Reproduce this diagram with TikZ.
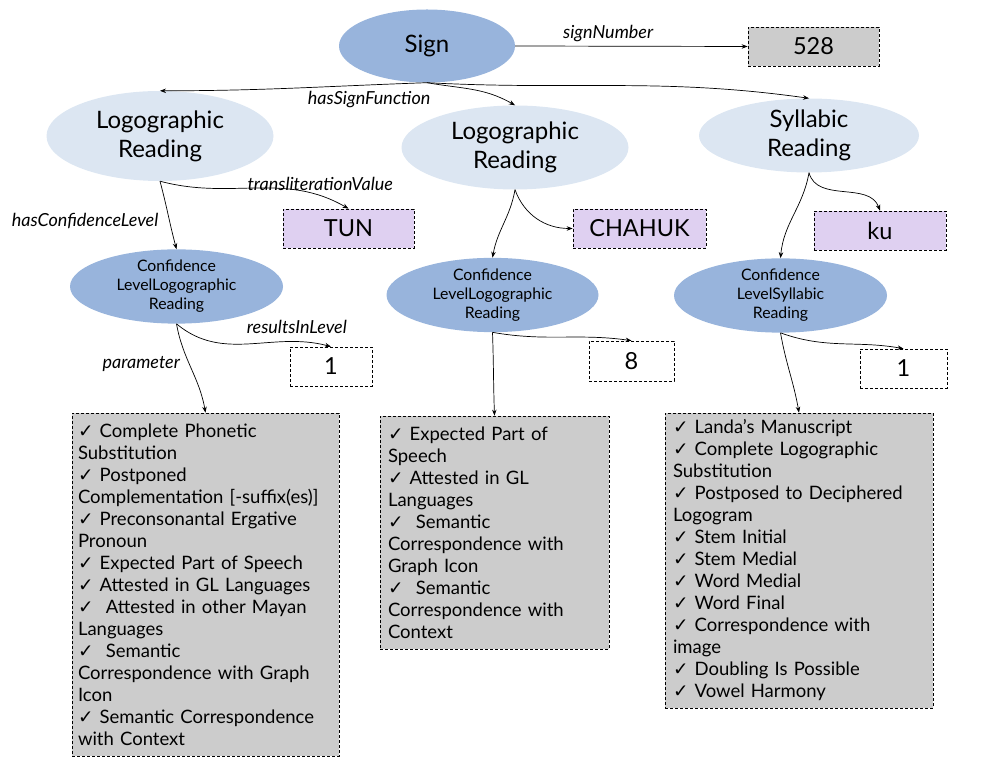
\documentclass[tikz,border=0pt]{standalone}
\usepackage{fontspec}
\setmainfont{Lato}
\newfontfamily\symfont{DejaVu Sans}
\usetikzlibrary{shapes.geometric,arrows.meta}

\definecolor{signblue}{HTML}{98B4DC}
\definecolor{readblue}{HTML}{DCE6F2}
\definecolor{valpurple}{HTML}{DFD0F1}
\definecolor{paramgray}{HTML}{CCCCCC}

\newcommand{\tick}{{\symfont\char"2713}\ }

\tikzset{
	signnode/.style={ellipse,fill=signblue,inner sep=0pt,font=\fontsize{24}{29}\selectfont},
	reading/.style={ellipse,fill=readblue,inner sep=0pt,align=center,font=\fontsize{24}{29}\selectfont},
	conflevel/.style={ellipse,fill=signblue,inner sep=0pt,align=center,font=\fontsize{15.8}{19}\selectfont},
	dashbox/.style={draw,dash pattern=on 3pt off 2pt,line width=0.7pt,inner sep=0pt},
	valbox/.style={dashbox,font=\fontsize{23.5}{27}\selectfont},
	paramlist/.style={dashbox,fill=paramgray,inner xsep=8pt,align=left,font=\fontsize{18.5}{22}\selectfont},
	rel/.style={-{Stealth[length=6pt,width=4.5pt]},line width=0.7pt},
	rellabel/.style={font=\fontsize{18}{21}\selectfont\itshape,inner sep=1pt}
}

\begin{document}
\begin{tikzpicture}[x=1pt,y=1pt]
	\useasboundingbox (0,0) rectangle (982,766);
	% top level
	\node[signnode,minimum width=176pt,minimum height=73pt] (sign) at (427,720) {Sign};
	\node[valbox,fill=paramgray,minimum width=131pt,minimum height=39pt] (n528) at (813.5,719.5) {528};
	% readings
	\node[reading,minimum width=227pt,minimum height=90pt] (lr1) at (160,630) {Logographic\\Reading};
	\node[reading,minimum width=227pt,minimum height=84pt] (lr2) at (515,618.5) {Logographic\\Reading};
	\node[reading,minimum width=220pt,minimum height=74pt] (sr) at (809,630.5) {Syllabic\\Reading};
	% transliteration values
	\node[valbox,fill=valpurple,minimum width=131pt,minimum height=39pt] (tun) at (348.5,537.5) {TUN};
	\node[valbox,fill=valpurple,minimum width=133pt,minimum height=39pt] (chahuk) at (639.5,537.5) {CHAHUK};
	\node[valbox,fill=valpurple,minimum width=132pt,minimum height=39pt] (ku) at (880,535.5) {ku};
	% confidence levels
	\node[conflevel,minimum width=213pt,minimum height=73pt] (cl1) at (176.5,479.5) {Confidence\\LevelLogographic\\Reading};
	\node[conflevel,minimum width=212pt,minimum height=74pt] (cl2) at (492.5,471) {Confidence\\LevelLogographic\\Reading};
	\node[conflevel,minimum width=213pt,minimum height=73pt] (cl3) at (780.5,470.5) {Confidence\\LevelSyllabic\\Reading};
	% levels
	\node[valbox,minimum width=82pt,minimum height=39pt] (r1) at (331,399.5) {1};
	\node[valbox,minimum width=85pt,minimum height=40pt] (r2) at (631.5,405) {8};
	\node[valbox,minimum width=87pt,minimum height=39pt] (r3) at (903.5,397.5) {1};
	% parameters
	\node[paramlist,inner xsep=6pt,text width=255pt,minimum height=343pt] (list1) at (205.5,181.5) {\tick Complete Phonetic\\ Substitution\\ \tick Postponed\\ Complementation [-suffix(es)]\\ \tick Preconsonantal Ergative\\ Pronoun\\ \tick Expected Part of Speech\\ \tick Attested in GL Languages\\ \tick\ Attested in other Mayan\\ Languages\\ \tick\ Semantic\\ Correspondence with Graph\\ Icon\\ \tick Semantic Correspondence\\ with Context};
	\node[paramlist,text width=213pt,minimum height=233pt] (list2) at (494.5,233.5) {\tick Expected Part of\\ Speech\\ \tick Attested in GL\\ Languages\\ \tick\ Semantic\\ Correspondence with\\ Graph Icon\\ \tick\ Semantic\\ Correspondence with\\ Context};
	\node[paramlist,text width=252pt,minimum height=295pt] (list3) at (799,205.5) {\tick Landa’s Manuscript\\ \tick Complete Logographic\\ Substitution\\ \tick Postposed to Deciphered\\ Logogram\\ \tick Stem Initial\\ \tick Stem Medial\\ \tick Word Medial\\ \tick Word Final\\ \tick Correspondence with\\ image\\ \tick Doubling Is Possible\\ \tick Vowel Harmony};

	% relations
	\draw[rel] (sign.east) -- node[rellabel,pos=0.4,above=3pt]{signNumber} (n528.west);
	\draw[rel] (sign.south) to[out=182,in=0] node[rellabel,pos=0.2,below=5pt]{hasSignFunction} (lr1.north);
	\draw[rel] (sign.south) to[out=-10,in=150] (lr2.north);
	\draw[rel] (sign.south) to[out=-3,in=172] (sr.north);

	\draw[rel] (lr1.south) to[out=-15,in=150] node[rellabel,pos=0.85,above=4pt]{transliterationValue} (tun.north);
	\draw[rel] (lr1.south) to[out=-75,in=105] node[rellabel,pos=0.6,left=10pt]{hasConfidenceLevel} (cl1.north);
	\draw[rel] (lr2.south) to[out=-70,in=180] (chahuk.west);
	\draw[rel] (lr2.south) to[out=-100,in=80] (cl2.north);
	\draw[rel] (sr.south) to[out=-75,in=110] (ku.north);
	\draw[rel] (sr.south) to[out=-100,in=85] (cl3.north);

	\draw[rel] (cl1.south) to[out=-40,in=165] node[rellabel,pos=0.8,above=7pt]{resultsInLevel} (r1.north);
	\draw[rel] (cl1.south) to[out=-80,in=100] node[rellabel,pos=0.45,left=8pt]{parameter} (list1.north);
	\draw[rel] (cl2.south) to[out=-10,in=172] (r2.north);
	\draw[rel] (cl2.south) to[out=-88,in=92] (list2.north);
	\draw[rel] (cl3.south) to[out=-20,in=170] (r3.north);
	\draw[rel] (cl3.south) to[out=-80,in=100] (list3.north);
\end{tikzpicture}
\end{document}
